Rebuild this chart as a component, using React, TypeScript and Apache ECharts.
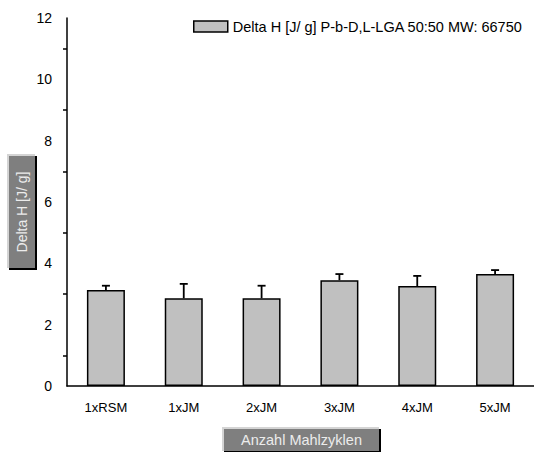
import React, { useEffect, useRef } from "react";
import * as echarts from "echarts";

const categories = ["1xRSM", "1xJM", "2xJM", "3xJM", "4xJM", "5xJM"];
const values = [3.13, 2.86, 2.86, 3.45, 3.26, 3.65];
const errors = [0.14, 0.47, 0.41, 0.2, 0.33, 0.13];
const yTicks = [0, 2, 4, 6, 8, 10, 12];
const seriesName = "Delta H [J/ g] P-b-D,L-LGA 50:50 MW: 66750";
const yTitle = "Delta H [J/ g]";
const xTitle = "Anzahl Mahlzyklen";

const FONT = "Liberation Sans, Arial, sans-serif";

function bevelBox(x: number, y: number, w: number, h: number, text: string, rotate: boolean, size: number) {
  return {
    type: "group",
    children: [
      { type: "rect", shape: { x: x, y: y, width: w, height: h }, style: { fill: "#d4d4d4" } },
      { type: "rect", shape: { x: x + 2, y: y + 2, width: w, height: h }, style: { fill: "#000" } },
      { type: "rect", shape: { x: x + 2, y: y + 2, width: w - 2, height: h - 2 }, style: { fill: "#7f7f7f" } },
      {
        type: "text",
        x: x + 1 + w / 2,
        y: y + 1 + h / 2,
        rotation: rotate ? Math.PI / 2 : 0,
        style: {
          text,
          fill: "#ececec",
          font: size + "px " + FONT,
          align: "center",
          verticalAlign: "middle",
        },
      },
    ],
  };
}

export default function App() {
  const ref = useRef<HTMLDivElement>(null);
  useEffect(() => {
    if (!ref.current) return;
    const chart = echarts.init(ref.current, null, { renderer: "svg" });
    const errData = values.map((v, i) => [i, v, v + errors[i]]);
    chart.setOption({
      animation: false,
      backgroundColor: "#fff",
      textStyle: { fontFamily: FONT },
      legend: {
        left: 188,
        top: 14,
        itemWidth: 34,
        itemHeight: 11,
        textStyle: { fontSize: 14.5, color: "#000", fontFamily: FONT },
        data: [{ name: seriesName, icon: "rect", itemStyle: { color: "#c0c0c0", borderColor: "#000", borderWidth: 1.5 } }],
      },
      grid: { left: 67, top: 18, width: 468, height: 368, containLabel: false },
      xAxis: [
        {
          type: "category",
          data: categories,
          position: "bottom",
          axisLine: { lineStyle: { color: "#000", width: 1.5 } },
          axisTick: { alignWithLabel: true, length: 9, lineStyle: { color: "#000", width: 1.5 } },
          axisLabel: { color: "#000", fontSize: 13, margin: 15, fontFamily: FONT },
        },
        {
          type: "category",
          data: categories,
          position: "bottom",
          axisLine: { show: false },
          axisTick: { length: 6, lineStyle: { color: "#000", width: 1.5 } },
          axisLabel: { show: false },
        },
      ],
      yAxis: {
        type: "value",
        min: 0,
        max: 12,
        interval: 2,
        splitLine: { show: false },
        axisLine: { show: true, lineStyle: { color: "#000", width: 1.5 } },
        axisTick: { length: 7, lineStyle: { color: "#000", width: 1.5 } },
        minorTick: { show: true, splitNumber: 2, length: 4, lineStyle: { color: "#000", width: 1.5 } },
        axisLabel: {
          color: "#000",
          fontSize: 14,
          margin: 15,
          fontFamily: FONT,
          formatter: (v: number) => (yTicks.includes(v) ? String(v) : ""),
        },
      },
      series: [
        {
          name: seriesName,
          type: "bar",
          data: values,
          barWidth: 38,
          itemStyle: { color: "#c0c0c0", borderColor: "#000", borderWidth: 1.5 },
          z: 2,
        },
        {
          type: "custom",
          data: errData,
          z: 3,
          renderItem: (params: any, api: any) => {
            const x = api.value(0);
            const lo = api.coord([x, api.value(1)]);
            const hi = api.coord([x, api.value(2)]);
            return {
              type: "group",
              children: [
                { type: "line", shape: { x1: lo[0], y1: lo[1], x2: hi[0], y2: hi[1] }, style: { stroke: "#000", lineWidth: 1.8 } },
                { type: "line", shape: { x1: hi[0] - 4, y1: hi[1], x2: hi[0] + 4, y2: hi[1] }, style: { stroke: "#000", lineWidth: 1.8 } },
              ],
            };
          },
        },
      ],
      graphic: [bevelBox(7, 154, 28, 114, yTitle, true, 14), bevelBox(222, 427, 157, 24, xTitle, false, 14.5)],
    });
    return () => chart.dispose();
  }, []);
  return <div ref={ref} style={{ width: 534, height: 452, position: "absolute", left: 0, top: 0 }} />;
}
